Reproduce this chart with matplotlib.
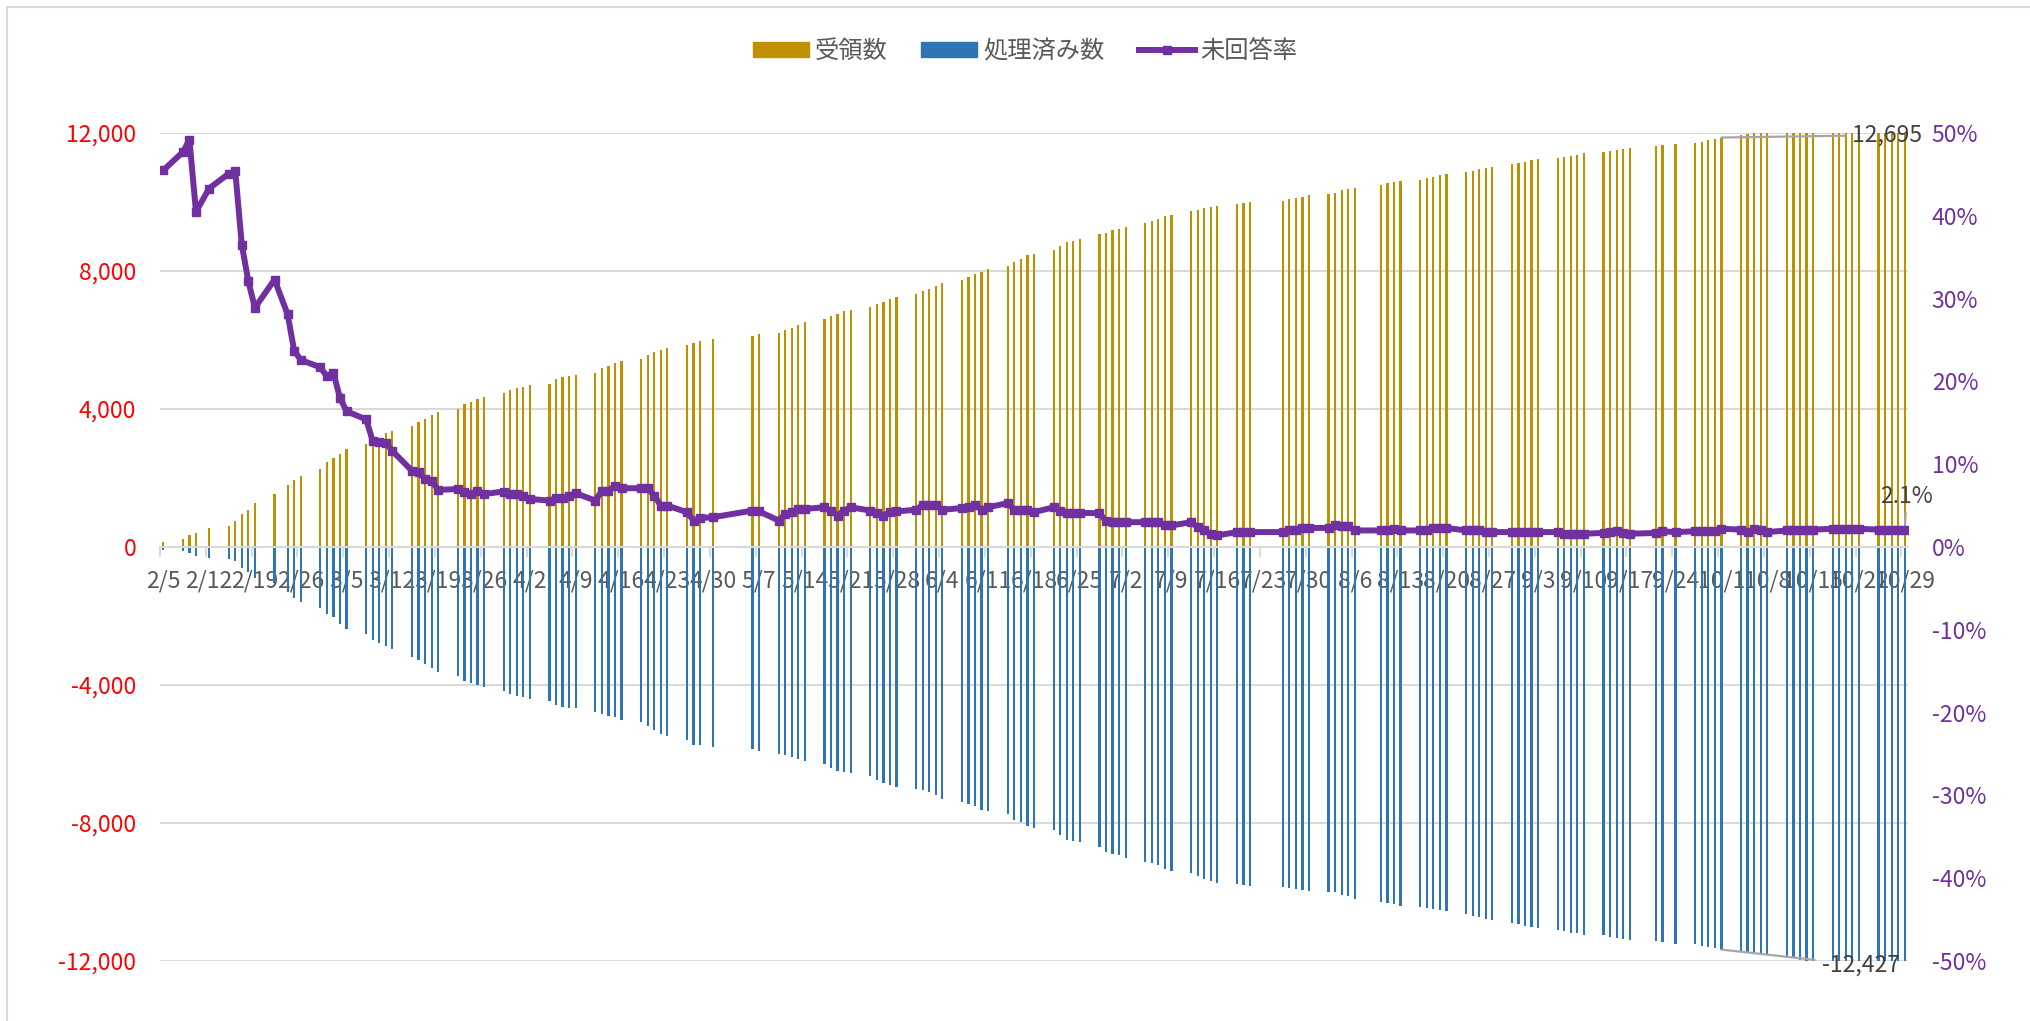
import matplotlib
matplotlib.use("Agg")
import matplotlib.pyplot as plt
import matplotlib.dates as mdates
from matplotlib.ticker import FuncFormatter
from matplotlib.patches import Patch, Rectangle
from matplotlib.lines import Line2D
import numpy as np
import pandas as pd

plt.rcParams['font.family'] = ['Noto Sans CJK JP', 'DejaVu Sans']

# business days 2021, Japanese holidays have no data
holidays = ['2021-02-11', '2021-02-23', '2021-04-29', '2021-05-03', '2021-05-04',
            '2021-05-05', '2021-07-22', '2021-07-23', '2021-08-09', '2021-09-20',
            '2021-09-23']
dates = pd.bdate_range('2021-02-05', '2021-10-29', freq='C', holidays=holidays)

# 受領数 (cumulative received)
recv_feb = [150, 230, 360, 420, 550, 620, 740, 950, 1070, 1270, 1530, 1790, 1940, 2060]
recv_mar = [2260, 2450, 2570, 2710, 2830, 2980, 3100, 3170, 3300, 3360, 3510, 3620, 3700, 3830,
            3900, 4010, 4140, 4200, 4280, 4350, 4470, 4540, 4600]
recv_apr = [4630, 4690, 4730, 4880, 4940, 4970, 5000, 5050, 5200, 5260, 5320, 5390, 5460, 5580,
            5650, 5710, 5780, 5850, 5920, 5960, 6030]
recv_may = [6130, 6170, 6210, 6290, 6360, 6440, 6510, 6620, 6690, 6760, 6830, 6880, 6960, 7030,
            7110, 7190, 7260, 7340]
recv_jun = [7420, 7490, 7570, 7640, 7750, 7820, 7900, 7980, 8050, 8160, 8270, 8350, 8460, 8500,
            8620, 8730, 8840, 8880, 8920, 9070, 9110, 9180]
recv_jul = [9220, 9290, 9400, 9440, 9520, 9590, 9630, 9740, 9780, 9820, 9850, 9890, 9950, 9970,
            10000, 10040, 10080, 10120, 10160, 10190]
recv_aug = [10230, 10270, 10340, 10380, 10420, 10500, 10540, 10580, 10610, 10650, 10690, 10730,
            10770, 10800, 10870, 10910, 10950, 10990, 11020, 11100, 11140]
recv_sep = [11170, 11210, 11240, 11280, 11310, 11340, 11370, 11420, 11440, 11480, 11500, 11540,
            11560, 11610, 11640, 11680, 11700, 11750, 11800, 11830]
recv_oct = [11870, 11930, 11960, 11990, 12020, 12060, 12110, 12150, 12200, 12240, 12280, 12330,
            12370, 12420, 12450, 12490, 12550, 12580, 12620, 12660, 12695]

# 処理済み数 (cumulative processed, drawn downward)
proc_feb = [80, 120, 180, 250, 310, 340, 400, 600, 730, 900, 1040, 1290, 1480, 1590]
proc_mar = [1770, 1950, 2030, 2220, 2370, 2520, 2700, 2770, 2880, 2970, 3190, 3290, 3400, 3520,
            3630, 3730, 3870, 3930, 3990, 4070, 4170, 4250, 4310]
proc_apr = [4340, 4420, 4470, 4590, 4650, 4660, 4680, 4770, 4850, 4900, 4930, 5010, 5070, 5180,
            5300, 5420, 5490, 5600, 5730, 5750, 5810]
proc_may = [5860, 5900, 6010, 6040, 6090, 6140, 6210, 6300, 6400, 6500, 6530, 6550, 6650, 6740,
            6840, 6890, 6950, 7010]
proc_jun = [7040, 7110, 7180, 7300, 7390, 7440, 7500, 7620, 7660, 7730, 7900, 7970, 8080, 8140,
            8210, 8350, 8480, 8520, 8550, 8700, 8830, 8900]
proc_jul = [8940, 9010, 9120, 9160, 9230, 9340, 9380, 9450, 9550, 9620, 9690, 9750, 9770, 9790,
            9820, 9860, 9880, 9910, 9930, 9960]
proc_aug = [10000, 10010, 10080, 10120, 10210, 10290, 10330, 10350, 10400, 10440, 10470, 10480,
            10520, 10550, 10650, 10690, 10730, 10790, 10820, 10900, 10940]
proc_sep = [11000, 11020, 11050, 11110, 11130, 11180, 11200, 11240, 11250, 11300, 11320, 11370,
            11390, 11430, 11440, 11500, 11510, 11560, 11590, 11630]
proc_oct = [11670, 11710, 11730, 11760, 11790, 11830, 11880, 11910, 11960, 12000, 12040, 12090,
            12130, 12170, 12200, 12240, 12290, 12320, 12360, 12390, 12427]

# 未回答率 (%)
rate_feb = [45.5, 47.7, 49.2, 40.5, 43.3, 45.1, 45.4, 36.5, 32.1, 28.9, 32.3, 28.1, 23.7, 22.6]
rate_mar = [21.7, 20.6, 21.0, 18.0, 16.4, 15.4, 12.8, 12.7, 12.6, 11.6, 9.2, 9.0, 8.2, 8.0,
            6.9, 7.0, 6.6, 6.4, 6.8, 6.4, 6.7, 6.4, 6.4]
rate_apr = [6.2, 5.8, 5.6, 5.9, 5.9, 6.2, 6.5, 5.6, 6.8, 6.8, 7.4, 7.1, 7.1, 7.1, 6.2, 5.0,
            5.0, 4.2, 3.2, 3.5, 3.6]
rate_may = [4.4, 4.3, 3.2, 4.0, 4.2, 4.6, 4.6, 4.8, 4.4, 3.8, 4.4, 4.8, 4.4, 4.1, 3.8, 4.2,
            4.3, 4.5]
rate_jun = [5.1, 5.1, 5.1, 4.5, 4.7, 4.8, 5.1, 4.5, 4.8, 5.3, 4.5, 4.5, 4.5, 4.2, 4.8, 4.4,
            4.1, 4.1, 4.1, 4.1, 3.1, 3.0]
rate_jul = [3.0, 3.0, 3.0, 3.0, 3.0, 2.6, 2.6, 3.0, 2.4, 2.0, 1.6, 1.4, 1.8, 1.8, 1.8, 1.8,
            2.0, 2.1, 2.3, 2.3]
rate_aug = [2.3, 2.6, 2.5, 2.5, 2.0, 2.0, 2.0, 2.2, 2.0, 2.0, 2.1, 2.3, 2.3, 2.3, 2.0, 2.0,
            2.0, 1.8, 1.8, 1.8, 1.8]
rate_sep = [1.8, 1.8, 1.8, 1.8, 1.6, 1.6, 1.6, 1.6, 1.7, 1.8, 1.9, 1.7, 1.6, 1.7, 1.9, 1.8,
            1.9, 1.9, 1.9, 1.9]
rate_oct = [2.2, 2.1, 1.8, 2.2, 2.1, 1.8, 2.0, 2.1, 2.1, 2.1, 2.1, 2.2, 2.2, 2.2, 2.2, 2.2,
            2.1, 2.1, 2.1, 2.1, 2.1]

received = recv_feb + recv_mar + recv_apr + recv_may + recv_jun + recv_jul + recv_aug + recv_sep + recv_oct
processed = proc_feb + proc_mar + proc_apr + proc_may + proc_jun + proc_jul + proc_aug + proc_sep + proc_oct
rate = rate_feb + rate_mar + rate_apr + rate_may + rate_jun + rate_jul + rate_aug + rate_sep + rate_oct
assert len(dates) == len(received) == len(processed) == len(rate)

labels = ['受領数', '処理済み数', '未回答率']
GOLD = '#BF9000'
BLUE = '#2E75B6'
PURPLE = '#7030A0'
GRID = '#D9D9D9'

fig = plt.figure(figsize=(20.3, 10.21), dpi=100)
ax = fig.add_axes([0.0788, 0.0588, 0.8611, 0.8109])
ax2 = ax.twinx()

x = mdates.date2num(dates)
ax.bar(x, received, width=0.34, color=GOLD, linewidth=0, zorder=2)
ax.bar(x, -np.array(processed), width=0.34, color=BLUE, linewidth=0, zorder=2)

ax.set_xlim(x[0] - 0.5, x[-1] + 0.5)
ax.set_ylim(-12000, 12000)
ax.set_yticks(range(-12000, 12001, 4000))
ax.yaxis.set_major_formatter(FuncFormatter(lambda v, p: f"{int(v):,}"))
ax.grid(axis='y', color=GRID, lw=1.4)
ax.set_axisbelow(True)
for s in ['top', 'left', 'right']:
    ax.spines[s].set_visible(False)
ax.spines['bottom'].set_position(('data', 0))
ax.spines['bottom'].set_color(GRID)
ax.spines['bottom'].set_linewidth(1.4)
ax.tick_params(axis='y', length=0, pad=17, labelsize=16.5, labelcolor='#FF0000')

week_ticks = pd.date_range('2021-02-05', '2021-10-29', freq='7D')
wt = mdates.date2num(week_ticks)
ax.set_xticks(wt)
ax.set_xticklabels([f"{d.month}/{d.day}" for d in week_ticks])
ax.set_xticks(wt - 0.5, minor=True)
ax.tick_params(axis='x', which='major', length=0, pad=16, labelsize=16.5, labelcolor='#595959')
ax.tick_params(axis='x', which='minor', length=7, width=1.4, color=GRID)

ax2.plot(x, rate, color=PURPLE, lw=4.3, marker='s', ms=5.5, solid_joinstyle='round', zorder=3)
ax2.set_ylim(-50, 50)
ax2.set_yticks(range(-50, 51, 10))
ax2.yaxis.set_major_formatter(FuncFormatter(lambda v, p: f"{int(v)}%"))
ax2.tick_params(axis='y', length=0, pad=17, labelsize=16.5, labelcolor=PURPLE)
for s in ax2.spines.values():
    s.set_visible(False)

# data labels with leader lines
i_lead = list(dates).index(pd.Timestamp('2021-10-01'))
lead = dict(arrowstyle='-', color='#A6A6A6', lw=1.6, shrinkA=3, shrinkB=0)
ax.annotate(f"{received[-1]:,}", xy=(x[i_lead], received[i_lead]), xytext=(x[0] + 258, 11940),
            ha='left', va='center', fontsize=16.5, color='#404040',
            arrowprops=lead, annotation_clip=False)
ax.annotate(f"{-processed[-1]:,}", xy=(x[i_lead], -processed[i_lead]), xytext=(x[0] + 253.3, -12115),
            ha='left', va='center', fontsize=16.5, color='#404040',
            arrowprops=lead, annotation_clip=False)
ax2.annotate(f"{rate[-1]}%", xy=(x[-1], rate[-1]), xytext=(x[-1] + 0.3, 6.1),
             ha='center', va='center', fontsize=16.5, color='#404040',
             arrowprops=dict(arrowstyle='-', color='#A6A6A6', lw=1.6, shrinkA=1, shrinkB=4),
             annotation_clip=False)

handles = [Patch(color=GOLD), Patch(color=BLUE),
           Line2D([], [], color=PURPLE, lw=4.3, marker='s', ms=5.5)]
fig.legend(handles, labels, loc='center', bbox_to_anchor=(0.505, 1 - 51 / 1021), ncol=3,
           frameon=False, fontsize=17.5, handlelength=2.3, handleheight=0.6,
           handletextpad=0.25, columnspacing=1.4, labelcolor='#595959')

# chart area border
fig.add_artist(Rectangle((7 / 2030, -0.05), 1.1, 1.05 - 7 / 1021, transform=fig.transFigure,
                         fill=False, edgecolor=GRID, lw=1.5))

fig.savefig('out.png', dpi=100, facecolor='white')
